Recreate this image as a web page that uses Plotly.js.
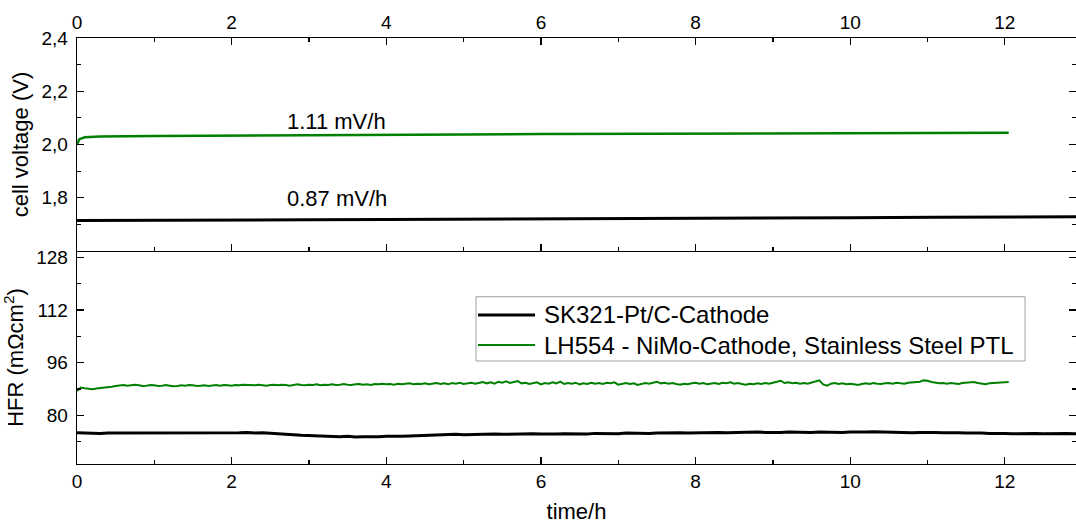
<!DOCTYPE html>
<html>
<head>
<meta charset="utf-8">
<script src="https://cdn.plot.ly/plotly-3.0.1.min.js"></script>
<style>html,body{margin:0;padding:0;background:#fff;}#chart{width:1076px;height:524px;}</style>
</head>
<body>
<div id="chart"></div>
<script>
// ---- data ----
const seriesNames = ["SK321-Pt/C-Cathode", "LH554 - NiMo-Cathode, Stainless Steel PTL"];

// cell voltage (V)
const voltTimeGreen = [0, 0.03, 0.1, 0.3, 1, 2, 3, 4, 5, 6, 7, 8, 9, 10, 11, 12.05];
const voltGreen     = [2.000, 2.020, 2.027, 2.030, 2.032, 2.034, 2.035, 2.037, 2.038, 2.039, 2.040, 2.040, 2.041, 2.042, 2.043, 2.044];
const voltTimeBlack = [0, 1, 2, 3, 4, 5, 6, 7, 8, 9, 9.3, 10, 11.1, 12, 13];
const voltBlack     = [1.715, 1.715, 1.716, 1.717, 1.718, 1.719, 1.720, 1.721, 1.722, 1.722, 1.724, 1.725, 1.727, 1.728, 1.729];

// HFR (mOhm cm2), black series sampled every 0.1 h
const hfrTimeBlack = [0.0,0.1,0.2,0.3,0.4,0.5,0.6,0.7,0.8,0.9,1.0,1.1,1.2,1.3,1.4,1.5,1.6,1.7,1.8,1.9,
  2.0,2.1,2.2,2.3,2.4,2.5,2.6,2.7,2.8,2.9,3.0,3.1,3.2,3.3,3.4,3.5,3.6,3.7,3.8,3.9,
  4.0,4.1,4.2,4.3,4.4,4.5,4.6,4.7,4.8,4.9,5.0,5.1,5.2,5.3,5.4,5.5,5.6,5.7,5.8,5.9,
  6.0,6.1,6.2,6.3,6.4,6.5,6.6,6.7,6.8,6.9,7.0,7.1,7.2,7.3,7.4,7.5,7.6,7.7,7.8,7.9,
  8.0,8.1,8.2,8.3,8.4,8.5,8.6,8.7,8.8,8.9,9.0,9.1,9.2,9.3,9.4,9.5,9.6,9.7,9.8,9.9,
  10.0,10.1,10.2,10.3,10.4,10.5,10.6,10.7,10.8,10.9,11.0,11.1,11.2,11.3,11.4,11.5,11.6,11.7,11.8,11.9,
  12.0,12.1,12.2,12.3,12.4,12.5,12.6,12.7,12.8,12.9,13.0];
const hfrBlack = [74.7,74.6,74.7,74.5,74.6,74.6,74.5,74.6,74.5,74.6,74.5,74.6,74.5,74.6,74.7,74.5,74.6,74.7,74.6,74.5,
  74.6,74.7,74.8,74.6,74.7,74.6,74.5,74.4,74.1,73.9,73.8,73.7,73.6,73.6,73.5,73.6,73.4,73.5,73.4,73.5,
  73.6,73.5,73.6,73.7,73.8,73.9,74.0,74.1,74.0,74.2,74.1,74.2,74.3,74.2,74.3,74.2,74.3,74.2,74.3,74.4,
  74.3,74.2,74.3,74.4,74.3,74.4,74.3,74.5,74.4,74.5,74.4,74.6,74.5,74.6,74.5,74.6,74.7,74.6,74.7,74.6,
  74.7,74.8,74.7,74.8,74.7,74.8,74.9,74.8,74.9,74.8,74.7,74.8,74.9,74.8,74.9,74.8,74.9,74.8,74.7,74.8,
  74.9,74.8,74.9,75.0,74.9,74.8,74.9,74.8,74.7,74.8,74.9,74.8,74.7,74.8,74.7,74.6,74.7,74.6,74.5,74.6,
  74.5,74.4,74.5,74.4,74.5,74.4,74.5,74.4,74.5,74.4,74.4];

// green series sampled every 0.05 h
const hfrTimeGreen = [
  0.00,0.05,0.10,0.15,0.20,0.25,0.30,0.35,0.40,0.45,0.50,0.55,0.60,0.65,0.70,0.75,0.80,0.85,0.90,0.95,
  1.00,1.05,1.10,1.15,1.20,1.25,1.30,1.35,1.40,1.45,1.50,1.55,1.60,1.65,1.70,1.75,1.80,1.85,1.90,1.95,
  2.00,2.05,2.10,2.15,2.20,2.25,2.30,2.35,2.40,2.45,2.50,2.55,2.60,2.65,2.70,2.75,2.80,2.85,2.90,2.95,
  3.00,3.05,3.10,3.15,3.20,3.25,3.30,3.35,3.40,3.45,3.50,3.55,3.60,3.65,3.70,3.75,3.80,3.85,3.90,3.95,
  4.00,4.05,4.10,4.15,4.20,4.25,4.30,4.35,4.40,4.45,4.50,4.55,4.60,4.65,4.70,4.75,4.80,4.85,4.90,4.95,
  5.00,5.05,5.10,5.15,5.20,5.25,5.30,5.35,5.40,5.45,5.50,5.55,5.60,5.65,5.70,5.75,5.80,5.85,5.90,5.95,
  6.00,6.05,6.10,6.15,6.20,6.25,6.30,6.35,6.40,6.45,6.50,6.55,6.60,6.65,6.70,6.75,6.80,6.85,6.90,6.95,
  7.00,7.05,7.10,7.15,7.20,7.25,7.30,7.35,7.40,7.45,7.50,7.55,7.60,7.65,7.70,7.75,7.80,7.85,7.90,7.95,
  8.00,8.05,8.10,8.15,8.20,8.25,8.30,8.35,8.40,8.45,8.50,8.55,8.60,8.65,8.70,8.75,8.80,8.85,8.90,8.95,
  9.00,9.05,9.10,9.15,9.20,9.25,9.30,9.35,9.40,9.45,9.50,9.55,9.60,9.65,9.70,9.75,9.80,9.85,9.90,9.95,
  10.00,10.05,10.10,10.15,10.20,10.25,10.30,10.35,10.40,10.45,10.50,10.55,10.60,10.65,10.70,10.75,10.80,10.85,10.90,10.95,
  11.00,11.05,11.10,11.15,11.20,11.25,11.30,11.35,11.40,11.45,11.50,11.55,11.60,11.65,11.70,11.75,11.80,11.85,11.90,11.95,
  12.00,12.05];
const hfrGreen = [
  87.4,88.4,88.2,88.0,87.9,88.1,88.2,88.4,88.5,88.7,88.9,89.1,89.2,89.0,89.1,89.3,89.1,88.9,89.0,89.2,
  89.1,88.9,89.0,89.2,89.0,88.8,88.9,89.1,89.0,89.2,89.1,88.9,89.0,89.1,88.9,89.1,89.2,89.0,89.2,89.1,
  89.0,89.2,89.1,89.3,89.2,89.0,89.1,89.3,89.2,89.0,89.2,89.3,89.1,89.3,89.2,89.0,89.2,89.4,89.2,89.1,
  89.3,89.2,89.4,89.1,89.3,89.2,89.4,89.2,89.3,89.5,89.3,89.2,89.4,89.5,89.3,89.4,89.2,89.5,89.4,89.6,
  89.4,89.5,89.3,89.6,89.4,89.5,89.7,89.4,89.6,89.5,89.7,89.4,89.6,89.8,89.5,89.7,89.4,89.8,89.6,89.9,
  89.5,89.7,89.9,89.6,89.8,90.1,89.7,90.0,89.6,90.2,89.9,90.3,89.8,90.0,90.4,89.7,89.9,89.5,89.8,90.0,
  89.4,89.8,89.6,90.0,89.7,90.2,89.5,89.8,89.6,89.9,89.4,89.7,89.5,89.9,89.6,89.8,89.5,89.9,89.7,90.0,
  89.3,89.6,89.8,89.5,89.7,89.2,89.5,89.8,89.6,90.0,90.2,89.7,89.9,89.6,89.8,89.5,89.3,89.6,89.4,89.7,
  89.9,89.6,89.8,89.4,89.6,89.8,89.5,89.9,89.7,90.0,89.6,89.8,89.5,89.3,89.6,89.4,89.7,89.5,89.8,89.6,
  89.9,90.1,90.5,89.8,90.0,89.7,89.9,89.6,89.8,89.6,89.9,90.3,90.6,89.4,89.0,89.6,89.8,89.5,89.7,89.4,
  89.6,89.4,89.2,89.5,89.7,89.5,89.8,89.6,89.5,89.7,89.8,89.6,89.9,89.7,89.6,89.9,90.0,90.3,90.2,90.6,
  90.5,90.1,89.9,89.7,89.8,89.6,89.8,89.7,89.5,89.8,89.9,90.2,90.1,89.8,89.6,89.4,89.7,89.8,89.9,90.0,
  90.1,90.1];

const rateLabels = ["1.11 mV/h", "0.87 mV/h"];
const rateLabelX = [3.36, 3.36];
const rateLabelY = [2.087, 1.796];

const xTickVals = [0, 2, 4, 6, 8, 10, 12];
const yHfrTicks = [80, 96, 112, 128];
const yVoltTicks = [1.8, 2.0, 2.2, 2.4];

// ---- styling ----
const GREEN = "#008000";
const BLACK = "#000000";
const FONT = "Liberation Sans, Arial, sans-serif";
const seriesColors = [BLACK, GREEN];
const seriesWidths = [3, 2];

const traces = [
  {x: voltTimeBlack, y: voltBlack, xaxis: "x2", yaxis: "y2", mode: "lines",
   line: {color: BLACK, width: 3}, showlegend: false, hoverinfo: "skip"},
  {x: voltTimeGreen, y: voltGreen, xaxis: "x2", yaxis: "y2", mode: "lines",
   line: {color: GREEN, width: 2.5}, showlegend: false, hoverinfo: "skip"},
  {x: hfrTimeBlack, y: hfrBlack, xaxis: "x", yaxis: "y", mode: "lines",
   name: seriesNames[0], line: {color: BLACK, width: 3}, showlegend: false},
  {x: hfrTimeGreen, y: hfrGreen, xaxis: "x", yaxis: "y", mode: "lines",
   name: seriesNames[1], line: {color: GREEN, width: 2}, showlegend: false}
];

const axisCommon = {
  showline: true, linecolor: BLACK, linewidth: 1.3,
  ticks: "inside", ticklen: 7, tickwidth: 1.2, tickcolor: BLACK,
  showgrid: false, zeroline: false,
  tickfont: {family: FONT, size: 19, color: BLACK}
};

// legend box drawn in paper coordinates (Origin-style long line samples)
const legBox = {x0: 0.3994, x1: 0.949, y0: 0.2418, y1: 0.3927};
const legRowsY = [0.3498, 0.2793];
const legLineX = [0.4014, 0.4585];
const legTextX = 0.4652;

const shapes = [
  {type: "rect", xref: "paper", yref: "paper", x0: legBox.x0, x1: legBox.x1, y0: legBox.y0, y1: legBox.y1,
   line: {color: "#a0a0a0", width: 1}, fillcolor: "#ffffff", layer: "above"}
].concat(seriesNames.map((n, i) => ({
  type: "line", xref: "paper", yref: "paper", x0: legLineX[0], x1: legLineX[1], y0: legRowsY[i], y1: legRowsY[i],
  line: {color: seriesColors[i], width: seriesWidths[i]}, layer: "above"
})));

const annotations = rateLabels.map((t, i) => ({
  text: t, x: rateLabelX[i], y: rateLabelY[i], xref: "x2", yref: "y2",
  showarrow: false, font: {family: FONT, size: 22, color: BLACK}
})).concat(seriesNames.map((n, i) => ({
  text: n, xref: "paper", yref: "paper", x: legTextX, y: legRowsY[i], xanchor: "left", yanchor: "middle",
  showarrow: false, font: {family: FONT, size: 24, color: BLACK}
})));

const layout = {
  width: 1076, height: 524,
  margin: {l: 77, r: 0, t: 38, b: 60},
  paper_bgcolor: "#fff", plot_bgcolor: "#fff",
  separators: ",.",
  font: {family: FONT, color: BLACK},
  showlegend: false,
  xaxis: Object.assign({}, axisCommon, {
    domain: [0, 1], anchor: "y", range: [0, 12.92],
    tickvals: xTickVals, ticktext: xTickVals.map(String),
    minor: {ticks: "inside", ticklen: 4, dtick: 1, tick0: 0, tickcolor: BLACK},
    mirror: false,
    title: {text: "time/h", font: {family: FONT, size: 22, color: BLACK}, standoff: 12}
  }),
  xaxis2: Object.assign({}, axisCommon, {
    domain: [0, 1], anchor: "y2", side: "top", matches: "x", range: [0, 12.92],
    tickvals: xTickVals, ticktext: xTickVals.map(String),
    minor: {ticks: "inside", ticklen: 4, dtick: 1, tick0: 0, tickcolor: BLACK},
    mirror: "ticks"
  }),
  yaxis: Object.assign({}, axisCommon, {
    domain: [0, 0.5], anchor: "x", range: [65.2, 129.9],
    tickvals: yHfrTicks, ticktext: yHfrTicks.map(String),
    minor: {ticks: "inside", ticklen: 4, dtick: 8, tick0: 0, tickcolor: BLACK},
    mirror: "ticks", ticklabelstandoff: 4,
    title: {text: "HFR (mΩcm<sup>2</sup>)", font: {family: FONT, size: 22, color: BLACK}, standoff: 6}
  }),
  yaxis2: Object.assign({}, axisCommon, {
    domain: [0.5, 1], anchor: "x2", range: [1.6, 2.4],
    tickvals: yVoltTicks, tickformat: ".1f",
    minor: {ticks: "inside", ticklen: 4, dtick: 0.1, tick0: 0, tickcolor: BLACK},
    mirror: "ticks", ticklabelstandoff: 4,
    title: {text: "cell voltage (V)", font: {family: FONT, size: 22, color: BLACK}, standoff: 6}
  }),
  shapes: shapes,
  annotations: annotations
};

Plotly.newPlot("chart", traces, layout, {displayModeBar: false, staticPlot: true});
</script>
</body>
</html>
